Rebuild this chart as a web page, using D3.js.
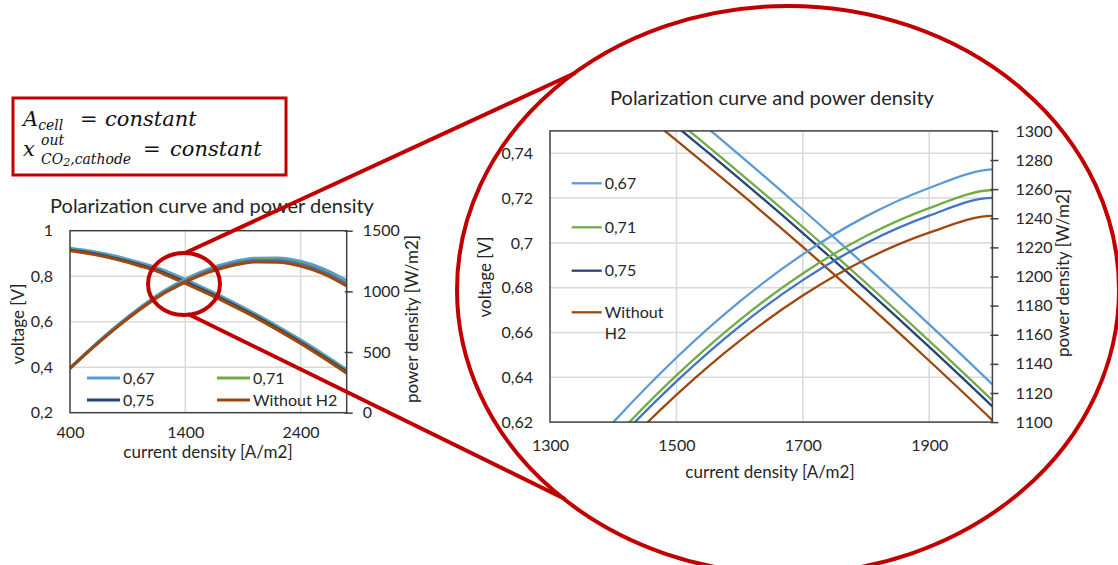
<!DOCTYPE html>
<html>
<head>
<meta charset="utf-8">
<script src="https://cdn.jsdelivr.net/npm/d3@7"></script>
<style>
  html, body { margin: 0; padding: 0; background: #ffffff; }
  svg { display: block; }
  text { font-family: Lato, "Open Sans", "Liberation Sans", sans-serif; fill: #262626; }
  .math { font-family: "DejaVu Serif", "Liberation Serif", serif; font-style: italic; fill: #111; }
</style>
</head>
<body>
<svg id="chart" width="1118" height="565"></svg>
<script>
// Current density samples [A/m2]
const currentDensity = [400, 600, 800, 1000, 1200, 1300, 1400, 1500, 1600, 1700, 1800, 1900, 2000, 2200, 2400, 2600, 2800];

// Cell voltage [V] per hydrogen case
const voltage067 = [0.923, 0.909, 0.888, 0.8605, 0.8285, 0.8076, 0.7856, 0.7628, 0.7392, 0.7148, 0.6896, 0.6636, 0.6368, 0.580, 0.520, 0.456, 0.389];
const voltage071 = [0.917, 0.902, 0.8805, 0.8525, 0.8202, 0.7991, 0.7773, 0.7547, 0.7313, 0.7071, 0.6821, 0.6563, 0.6297, 0.573, 0.513, 0.449, 0.382];
const voltage075 = [0.915, 0.900, 0.878, 0.8505, 0.8178, 0.7964, 0.7746, 0.7520, 0.7286, 0.7044, 0.6794, 0.6536, 0.6270, 0.570, 0.510, 0.446, 0.379];
const voltageNoH2 = [0.912, 0.896, 0.874, 0.846, 0.8128, 0.7902, 0.7684, 0.7458, 0.7224, 0.6982, 0.6732, 0.6474, 0.6208, 0.564, 0.504, 0.440, 0.373];

// Power density [W/m2] per hydrogen case
const power067 = [369.2, 545.4, 710.4, 860.5, 994.2, 1049.9, 1099.8, 1144.2, 1182.7, 1215.2, 1241.3, 1260.8, 1273.6, 1276.0, 1248.0, 1185.6, 1089.2];
const power071 = [366.8, 541.2, 704.4, 852.5, 984.2, 1038.8, 1088.2, 1132.1, 1170.1, 1202.1, 1227.8, 1247.0, 1259.4, 1260.6, 1231.2, 1167.4, 1069.6];
const power075 = [366.0, 540.0, 702.4, 850.5, 981.4, 1035.3, 1084.4, 1128.0, 1165.8, 1197.5, 1222.9, 1241.8, 1254.0, 1254.0, 1224.0, 1159.6, 1061.2];
const powerNoH2 = [364.8, 537.6, 699.2, 846.0, 975.4, 1027.3, 1075.8, 1118.7, 1155.8, 1186.9, 1211.8, 1230.1, 1241.6, 1240.8, 1209.6, 1144.0, 1044.4];

const seriesNames = ["0,67", "0,71", "0,75", "Without H2"];
const voltageColors = ["#5B9BD5", "#70AD47", "#264478", "#9E480E"];
const powerColors = ["#5B9BD5", "#70AD47", "#4472C4", "#9E480E"];

// Axis ticks
const overviewCurrentTicks = [400, 1400, 2400];
const overviewVoltageTicks = [0.2, 0.4, 0.6, 0.8, 1];
const overviewPowerTicks = [0, 500, 1000, 1500];
const detailCurrentTicks = [1300, 1500, 1700, 1900];
const detailVoltageTicks = [0.62, 0.64, 0.66, 0.68, 0.7, 0.72, 0.74];
const detailPowerTicks = [1100, 1120, 1140, 1160, 1180, 1200, 1220, 1240, 1260, 1280, 1300];

const chartTitle = "Polarization curve and power density";

const voltageSeries = [voltage067, voltage071, voltage075, voltageNoH2];
const powerSeries = [power067, power071, power075, powerNoH2];

const series = seriesNames.map((name, k) => ({
  name,
  voltage: currentDensity.map((c, i) => ({ c, v: voltageSeries[k][i] })),
  power: currentDensity.map((c, i) => ({ c, v: powerSeries[k][i] })),
  voltageColor: voltageColors[k],
  powerColor: powerColors[k]
}));

const commaFormat = d3.formatLocale({ decimal: ",", thousands: "", grouping: [3], currency: ["", ""] }).format("~g");
const plainFormat = d3.format("d");

const svg = d3.select("#chart");

function drawChart(cfg) {
  const g = svg.append("g");
  const x = d3.scaleLinear().domain(cfg.xDomain).range([cfg.left, cfg.right]);
  const yV = d3.scaleLinear().domain(cfg.vDomain).range([cfg.bottom, cfg.top]);
  const yP = d3.scaleLinear().domain(cfg.pDomain).range([cfg.bottom, cfg.top]);

  // gridlines
  const grid = g.append("g").attr("stroke", "#d9d9d9").attr("stroke-width", cfg.gridWidth);
  grid.selectAll("line.h").data(cfg.vTicks.filter(t => t > cfg.vDomain[0] && t < cfg.vDomain[1]))
    .join("line").attr("class", "h")
    .attr("x1", cfg.left).attr("x2", cfg.right)
    .attr("y1", d => yV(d)).attr("y2", d => yV(d));
  grid.selectAll("line.v").data(cfg.xTicks.filter(t => t > cfg.xDomain[0] && t < cfg.xDomain[1]))
    .join("line").attr("class", "v")
    .attr("y1", cfg.top).attr("y2", cfg.bottom)
    .attr("x1", d => x(d)).attr("x2", d => x(d));

  // curves, clipped to the plot area
  const clipId = "clip-" + cfg.id;
  svg.append("clipPath").attr("id", clipId).append("rect")
    .attr("x", cfg.left).attr("y", cfg.top)
    .attr("width", cfg.right - cfg.left).attr("height", cfg.bottom - cfg.top);
  const curves = g.append("g").attr("clip-path", `url(#${clipId})`).attr("fill", "none")
    .attr("stroke-width", cfg.lineWidth).attr("stroke-linejoin", "round");
  const lineV = d3.line().x(d => x(d.c)).y(d => yV(d.v)).curve(d3.curveMonotoneX);
  const lineP = d3.line().x(d => x(d.c)).y(d => yP(d.v)).curve(d3.curveMonotoneX);
  curves.selectAll("path.volt").data(series).join("path").attr("class", "volt")
    .attr("stroke", d => d.voltageColor).attr("d", d => lineV(d.voltage));
  curves.selectAll("path.pow").data(series).join("path").attr("class", "pow")
    .attr("stroke", d => d.powerColor).attr("d", d => lineP(d.power));

  // frame
  g.append("rect").attr("x", cfg.left).attr("y", cfg.top)
    .attr("width", cfg.right - cfg.left).attr("height", cfg.bottom - cfg.top)
    .attr("fill", "none").attr("stroke", "#404040").attr("stroke-width", cfg.frameWidth);

  // axes
  const axisLeft = d3.axisLeft(yV).tickValues(cfg.vTicks).tickSize(0).tickPadding(cfg.leftPad).tickFormat(commaFormat);
  const axL = g.append("g").attr("transform", `translate(${cfg.left},0)`).call(axisLeft);
  const axisBottom = d3.axisBottom(x).tickValues(cfg.xTicks).tickSize(0).tickPadding(cfg.bottomPad).tickFormat(plainFormat);
  const axB = g.append("g").attr("transform", `translate(0,${cfg.bottom})`).call(axisBottom);
  const axisRight = d3.axisRight(yP).tickValues(cfg.pTicks).tickSize(cfg.tickOut).tickPadding(cfg.rightPad).tickFormat(plainFormat);
  const axR = g.append("g").attr("transform", `translate(${cfg.right},0)`).call(axisRight);
  axR.selectAll(".tick line").attr("x1", -cfg.tickIn).attr("stroke", "#404040").attr("stroke-width", cfg.frameWidth);
  [axL, axB, axR].forEach(a => {
    a.select(".domain").remove();
    a.selectAll("text").attr("fill", "#262626").style("font-size", cfg.tickFont + "px")
      .style("font-family", "Lato, 'Open Sans', sans-serif");
  });

  // titles
  g.append("text").attr("x", cfg.titleX).attr("y", cfg.titleY).attr("text-anchor", "middle")
    .style("font-size", cfg.titleFont + "px").text(chartTitle);
  g.append("text").attr("x", cfg.xTitleX).attr("y", cfg.xTitleY).attr("text-anchor", "middle")
    .style("font-size", cfg.axisTitleFont + "px").text("current density [A/m2]");
  g.append("text").attr("transform", `translate(${cfg.vTitleX},${cfg.vTitleY}) rotate(-90)`)
    .attr("text-anchor", "middle").style("font-size", cfg.axisTitleFont + "px").text("voltage [V]");
  g.append("text").attr("transform", `translate(${cfg.pTitleX},${cfg.pTitleY}) rotate(-90)`)
    .attr("text-anchor", "middle").style("font-size", cfg.axisTitleFont + "px").text("power density [W/m2]");

  // legend
  const leg = g.append("g");
  series.forEach((s, k) => {
    const p = cfg.legendPos[k];
    leg.append("line").attr("x1", p[0]).attr("x2", p[0] + cfg.legendLine)
      .attr("y1", p[1]).attr("y2", p[1])
      .attr("stroke", s.voltageColor).attr("stroke-width", cfg.legendWidth);
    const t = leg.append("text").attr("x", p[0] + cfg.legendLine + 3).attr("y", p[1])
      .style("font-size", cfg.legendFont + "px");
    const parts = cfg.legendWrap && s.name.includes(" ") ? s.name.split(" ") : [s.name];
    parts.forEach((part, j) => {
      t.append("tspan").attr("x", p[0] + cfg.legendLine + 3).attr("dy", j === 0 ? "0.35em" : cfg.legendLineHeight + "px").text(part);
    });
  });
}

// overview chart
drawChart({
  id: "overview",
  left: 70, right: 346.7, top: 230.7, bottom: 412.7,
  xDomain: [400, 2800], vDomain: [0.2, 1], pDomain: [0, 1500],
  xTicks: overviewCurrentTicks, vTicks: overviewVoltageTicks, pTicks: overviewPowerTicks,
  gridWidth: 1.5, lineWidth: 3, frameWidth: 1.5,
  tickOut: 6, tickIn: 2, leftPad: 17, bottomPad: 14, rightPad: 10, tickFont: 16,
  titleX: 212, titleY: 213, titleFont: 20,
  xTitleX: 208, xTitleY: 458, axisTitleFont: 17,
  vTitleX: 24, vTitleY: 324, pTitleX: 418, pTitleY: 319,
  legendPos: [[87, 378], [217, 378], [87, 400], [217, 400]],
  legendLine: 33, legendWidth: 3, legendFont: 16, legendWrap: false, legendLineHeight: 0
});

// detail chart
drawChart({
  id: "detail",
  left: 550, right: 992.4, top: 130.9, bottom: 422.1,
  xDomain: [1300, 2000], vDomain: [0.62, 0.75], pDomain: [1100, 1300],
  xTicks: detailCurrentTicks, vTicks: detailVoltageTicks, pTicks: detailPowerTicks,
  gridWidth: 1.5, lineWidth: 2.3, frameWidth: 1.5,
  tickOut: 6, tickIn: 2, leftPad: 17, bottomPad: 18, rightPad: 17, tickFont: 16,
  titleX: 772, titleY: 105, titleFont: 20,
  xTitleX: 770, xTitleY: 478, axisTitleFont: 17,
  vTitleX: 491, vTitleY: 277, pTitleX: 1069, pTitleY: 273,
  legendPos: [[571.7, 183.3], [571.7, 227.3], [571.7, 270.7], [571.7, 312.3]],
  legendLine: 30, legendWidth: 2.3, legendFont: 16, legendWrap: true, legendLineHeight: 21
});

// zoom annotation
const red = "#C00000";
const ann = svg.append("g").attr("fill", "none").attr("stroke", red).attr("stroke-width", 4);
ann.append("ellipse").attr("cx", 184).attr("cy", 284).attr("rx", 36).attr("ry", 31);
ann.append("ellipse").attr("cx", 788).attr("cy", 290).attr("rx", 331).attr("ry", 284);
ann.append("line").attr("x1", 185).attr("y1", 253).attr("x2", 575).attr("y2", 73);
ann.append("line").attr("x1", 188).attr("y1", 314).attr("x2", 565).attr("y2", 499);

// boundary conditions box
svg.append("rect").attr("x", 13).attr("y", 98).attr("width", 273).attr("height", 77)
  .attr("fill", "#ffffff").attr("stroke", red).attr("stroke-width", 3);
const m1 = svg.append("text").attr("class", "math").attr("x", 23).attr("y", 126).style("font-size", "21px");
m1.append("tspan").text("A");
m1.append("tspan").attr("dy", 4).style("font-size", "14px").text("cell");
m1.append("tspan").attr("dy", -4).attr("x", 80).style("font-style", "normal").text("=");
m1.append("tspan").attr("x", 105).text("constant");
svg.append("text").attr("class", "math").attr("x", 23).attr("y", 156).style("font-size", "21px").text("x");
svg.append("text").attr("class", "math").attr("x", 41).attr("y", 145).style("font-size", "14px").text("out");
const sub = svg.append("text").attr("class", "math").attr("x", 41).attr("y", 164).style("font-size", "14px");
sub.append("tspan").text("CO");
sub.append("tspan").attr("dy", 2).style("font-size", "11px").text("2");
sub.append("tspan").attr("dy", -2).text(",cathode");
const m2 = svg.append("text").attr("class", "math").attr("x", 143).attr("y", 156).style("font-size", "21px");
m2.append("tspan").style("font-style", "normal").text("=");
m2.append("tspan").attr("x", 170).text("constant");
</script>
</body>
</html>
